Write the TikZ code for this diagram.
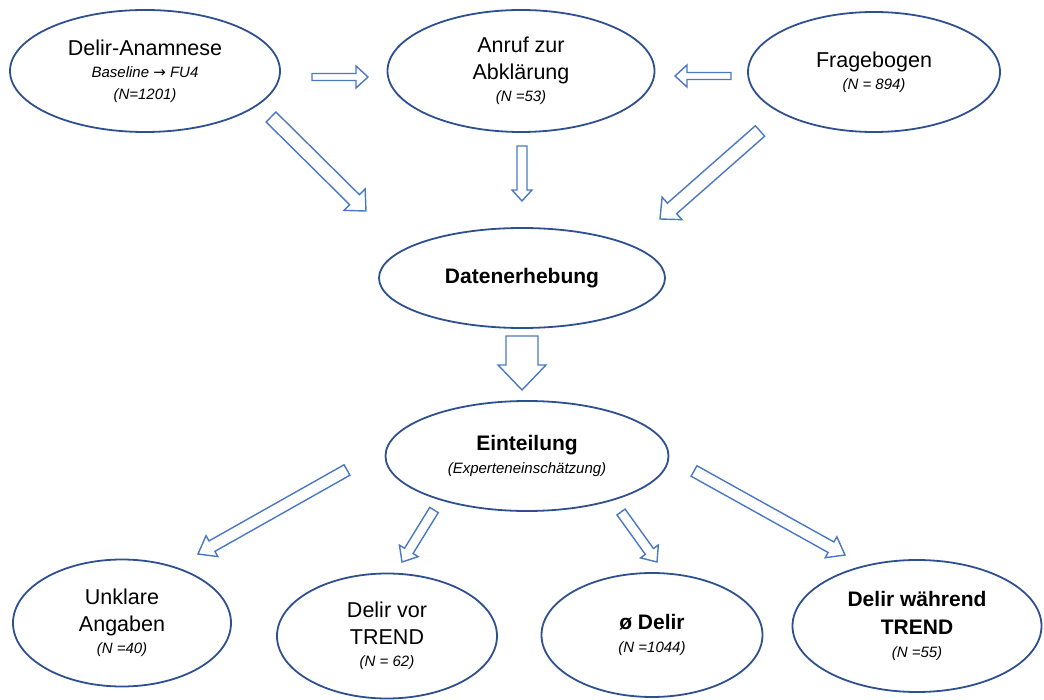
\documentclass[tikz,border=0pt]{standalone}
\usepackage{fontspec}
\setmainfont{Liberation Sans}
\newfontfamily\symfont{DejaVu Sans}
\usetikzlibrary{shapes.geometric,calc}
\definecolor{ellblue}{HTML}{2F5090}
\definecolor{arrblue}{HTML}{4A78C2}
\tikzset{
  ell/.style={ellipse, draw=ellblue, line width=1.8pt, inner sep=0pt, align=center,
    font=\fontsize{21.5}{27}\selectfont},
  ellb/.style={ell, font=\fontsize{21}{28}\selectfont\bfseries},
  barrow/.style={draw=arrblue, line width=1.4pt, fill=white, line join=miter},
}
\newcommand{\smallit}[1]{\\[-5pt]{\fontsize{15}{18}\selectfont\itshape #1}}
% #1 start, #2 end, #3 shaft half width, #4 head half width, #5 head length (pt)
\newcommand{\blockarrow}[5]{%
  \draw[barrow] let \p1=($(#2)-(#1)$), \n1={atan2(\y1,\x1)}, \n2={veclen(\x1,\y1)} in
    ($(#1)+(\n1+90:#3pt)$)
    -- ++({\n1}:{(\n2-#5)*1pt})
    -- ++({\n1+90}:{(#4-#3)*1pt})
    -- (#2)
    -- ($(#2)+(\n1+180:#5pt)+(\n1-90:#4pt)$)
    -- ++({\n1+90}:{(#4-#3)*1pt})
    -- ($(#1)+(\n1-90:#3pt)$) -- cycle;}
\begin{document}
\begin{tikzpicture}[x=1pt,y=-1pt]
\useasboundingbox (0,0) rectangle (1044,700);
% nodes
\node[ell, minimum width=270pt, minimum height=122pt] (anam) at (145,71)
  {Delir-Anamnese\smallit{Baseline {\symfont\fontsize{15}{18}\selectfont\upshape →} FU4}\smallit{(N=1201)}};
\node[ell, minimum width=267pt, minimum height=122pt] (anruf) at (521,71)
  {Anruf zur\\Abklärung\smallit{(N =53)}};
\node[ell, minimum width=252pt, minimum height=120pt] (frage) at (874,72)
  {Fragebogen\smallit{(N = 894)}};
\node[ellb, minimum width=286pt, minimum height=100pt] (daten) at (522,278)
  {Datenerhebung};
\node[ellb, minimum width=283pt, minimum height=110pt] (eint) at (527,456)
  {Einteilung\smallit{\mdseries(Experteneinschätzung)}};
\node[ell, minimum width=218pt, minimum height=127pt] (unkl) at (122,623)
  {Unklare\\Angaben\smallit{(N =40)}};
\node[ell, minimum width=220pt, minimum height=125pt] (vor) at (387,636)
  {Delir vor\\TREND\smallit{(N = 62)}};
\node[ellb, minimum width=221pt, minimum height=124pt] (kein) at (652,635)
  {ø Delir\smallit{\mdseries(N =1044)}};
\node[ellb, minimum width=249pt, minimum height=132pt] (waehr) at (917,626)
  {Delir während\\TREND\smallit{\mdseries(N =55)}};
% arrow end points
\coordinate (a1s) at (312,77);  \coordinate (a1e) at (368,77);
\coordinate (a2s) at (731,76);  \coordinate (a2e) at (675,76);
\coordinate (a3s) at (271,117); \coordinate (a3e) at (366,211);
\coordinate (a4s) at (522,146); \coordinate (a4e) at (522,201);
\coordinate (a5s) at (760,131); \coordinate (a5e) at (660,219);
\coordinate (a6s) at (522,336); \coordinate (a6e) at (522,390);
\coordinate (a7s) at (347,470); \coordinate (a7e) at (198,554);
\coordinate (a8s) at (434,510); \coordinate (a8e) at (402,562);
\coordinate (a9s) at (621,512); \coordinate (a9e) at (657,562);
\coordinate (a10s) at (694,471); \coordinate (a10e) at (845,555);
% arrows
\blockarrow{a1s}{a1e}{3.5}{11}{12}
\blockarrow{a2s}{a2e}{3.5}{11}{12}
\blockarrow{a3s}{a3e}{7}{15}{16}
\blockarrow{a4s}{a4e}{5}{10}{11}
\blockarrow{a5s}{a5e}{7}{15}{16}
\blockarrow{a6s}{a6e}{16}{24}{25}
\blockarrow{a7s}{a7e}{6}{12}{16}
\blockarrow{a8s}{a8e}{5}{11}{13}
\blockarrow{a9s}{a9e}{5}{11}{13}
\blockarrow{a10s}{a10e}{6}{12}{16}
\end{tikzpicture}
\end{document}
